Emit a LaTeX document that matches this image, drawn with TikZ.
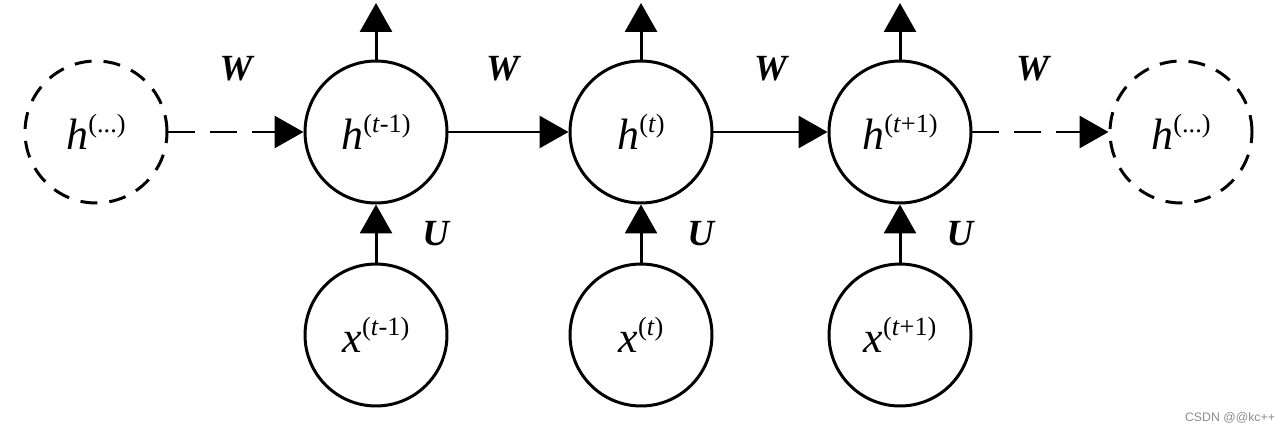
\documentclass[tikz,border=0pt]{standalone}
\usepackage{fontspec}
\setmainfont{Liberation Serif}
\newfontfamily\wmfont{Liberation Sans}
\usetikzlibrary{arrows.meta,positioning}
\tikzset{%
	cell/.style     = {draw, circle, line width=1.7pt, minimum size=2.84cm, inner sep=0pt, font=\fontsize{25}{30}\selectfont},
	ghost/.style    = {cell, dash pattern=on 0.34cm off 0.24cm},
	wlab/.style     = {inner sep=0pt, font=\fontsize{21}{25}\selectfont\bfseries\itshape},
	link/.style     = {line width=1.7pt, -{Triangle[length=0.58cm,width=0.64cm]}},
	dlink/.style    = {link, dash pattern=on 0.54cm off 0.3cm},
}
% superscript of a state
\newcommand{\stp}[1]{\raisebox{9.5pt}{\fontsize{15}{15}\selectfont(#1)}}

\begin{document}
\begin{tikzpicture}[x=0.02cm, y=-0.02cm]
	\useasboundingbox (0,0) rectangle (1280,433);
	% hidden states
	\node[ghost] (hl) at (96,132) {\textit{h}\stp{...}};
	\node[cell] (hprev) at (376,132) {\textit{h}\stp{\textit{t}-1}};
	\node[cell] (hcur) at (641,132) {\textit{h}\stp{\textit{t}}};
	\node[cell] (hnext) at (900,132) {\textit{h}\stp{\textit{t}+1}};
	\node[ghost] (hr) at (1181,132) {\textit{h}\stp{...}};
	% inputs
	\node[cell] (xprev) at (376,335) {\textit{x}\stp{\textit{t}-1}};
	\node[cell] (xcur) at (641,335) {\textit{x}\stp{\textit{t}}};
	\node[cell] (xnext) at (900,335) {\textit{x}\stp{\textit{t}+1}};
	% outputs
	\coordinate (oprev) at (376,3);
	\coordinate (ocur) at (641,3);
	\coordinate (onext) at (900,3);

	\draw[dlink] (hl) -- node[wlab, midway, above=0.98cm] {W} (hprev);
	\draw[link] (hprev) -- node[wlab, midway, above=0.98cm, xshift=-0.12cm] {W} (hcur);
	\draw[link] (hcur) -- node[wlab, midway, above=0.98cm] {W} (hnext);
	\draw[dlink] (hnext) -- node[wlab, midway, above=0.98cm, xshift=-0.16cm] {W} (hr);
	\draw[link] (xprev) -- node[wlab, midway, right=0.9cm] {U} (hprev);
	\draw[link] (xcur) -- node[wlab, midway, right=0.9cm] {U} (hcur);
	\draw[link] (xnext) -- node[wlab, midway, right=0.9cm] {U} (hnext);
	\draw[link] (hprev) -- (oprev);
	\draw[link] (hcur) -- (ocur);
	\draw[link] (hnext) -- (onext);

	\node[text=black!45, font=\wmfont\fontsize{7}{8}\selectfont] (wm) at (1230,418) {CSDN @@kc++};
\end{tikzpicture}
\end{document}
